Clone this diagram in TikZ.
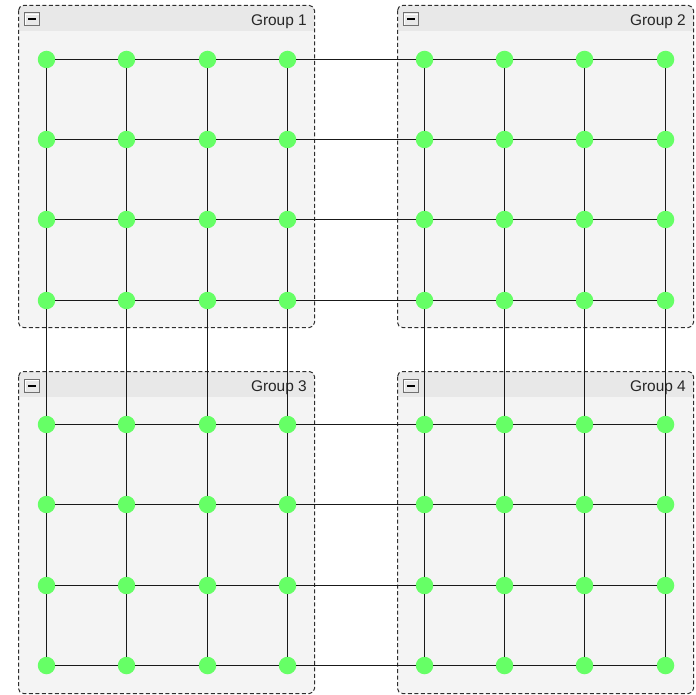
\documentclass[tikz,border=0pt]{standalone}
\usepackage{fontspec}
\setmainfont{Liberation Sans}
\definecolor{nodegreen}{HTML}{66FF66}
\definecolor{groupfill}{HTML}{F4F4F4}
\definecolor{headfill}{HTML}{E8E8E8}
\definecolor{groupline}{HTML}{2E2E2E}
\definecolor{btnline}{HTML}{707070}

\begin{document}
\begin{tikzpicture}[x=1bp, y=-1bp,
    vertex/.style={circle, fill=nodegreen, minimum size=17.5bp, inner sep=0pt},
    link/.style={line width=1bp, black!90},
    groupbox/.style={draw=groupline, line width=1bp, dash pattern=on 4bp off 2.5bp, rounded corners=5bp},
    grouplabel/.style={font=\fontsize{15.5}{18}\selectfont, text=black!85, inner sep=0pt}]

    \useasboundingbox (0,0) rectangle (696,695);

    % groups with their header bars
    \foreach \gx/\gy/\name in {18.5/5.5/Group 1, 397.5/5.5/Group 2, 18.5/371.5/Group 3, 397.5/371.5/Group 4}{
    \begin{scope}[shift={(\gx,\gy)}]
        \fill[groupfill, rounded corners=5bp] (0,0) rectangle (296,322);
        \begin{scope}
            \clip[rounded corners=5bp] (0,0) rectangle (296,322);
            \fill[headfill] (0,0) rectangle (296,25.5);
        \end{scope}
        \draw[groupbox] (0,0) rectangle (296,322);

        % collapse button
        \draw[btnline, line width=1bp, fill=headfill] (6,7.5) rectangle (21,20.5);
        \draw[white, line width=0.8bp] (7,19.5) -- (7,8.5) -- (20,8.5);
        \draw[black, line width=2bp] (9.5,14) -- (17.5,14);

        \node[grouplabel, anchor=base east] (label) at (288.5,20) {\name};
    \end{scope}
    }

    % nodes
    \foreach \y [count=\r] in {59.5,139.5,219.5,300.5,424.5,504.5,585.5,665.5}
        \foreach \x [count=\c] in {46.5,126.5,207.5,287.5,424.5,504.5,584.5,665.5}
            \node[vertex] (n-\r-\c) at (\x,\y) {};

    % rows
    \foreach \r in {1,...,8}
        \foreach \c [count=\d from 2] in {1,...,7}
            \draw[link] (n-\r-\c) -- (n-\r-\d);

    % columns
    \foreach \c in {1,...,8}
        \foreach \r [count=\d from 2] in {1,...,7}
            \draw[link] (n-\r-\c) -- (n-\d-\c);

\end{tikzpicture}
\end{document}
